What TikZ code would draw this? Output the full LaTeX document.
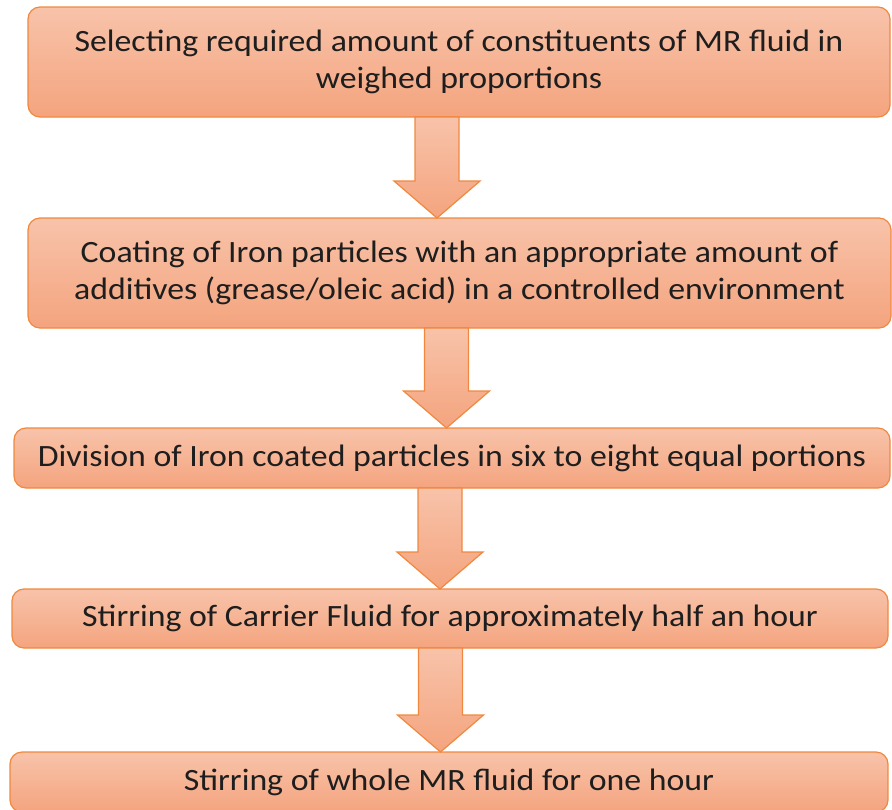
\documentclass[tikz,border=0pt]{standalone}
\usepackage{fontspec}
\setmainfont{Carlito}[FakeStretch=1.09]
\usetikzlibrary{calc}

\definecolor{boxtop}{HTML}{F8C3AA}
\definecolor{boxbot}{HTML}{F4A47E}
\definecolor{boxline}{HTML}{F0883F}
\definecolor{boxtext}{HTML}{1E1E1E}

\begin{document}
\begin{tikzpicture}[
    x=1pt, y=-1pt,
    every node/.style={inner sep=0pt, outer sep=0pt, align=center,
        text=boxtext, font=\fontsize{31}{37}\selectfont},
    stepbox/.style={
        rectangle, rounded corners=12pt, draw=boxline, line width=1.2pt,
        top color=boxtop, bottom color=boxbot
    },
    flowarrow/.style={
        draw=boxline, line width=1.2pt, top color=boxtop, bottom color=boxbot,
        to path={let \p1=(\tikztostart), \p2=(\tikztotarget) in
            (\x1-22pt,\y1) -- (\x1+22pt,\y1) -- (\x1+22pt,\y2+37pt)
            -- (\x1+43pt,\y2+37pt) -- (\x1,\y2) -- (\x1-43pt,\y2+37pt)
            -- (\x1-22pt,\y2+37pt) -- cycle}
    },
]

  \useasboundingbox (0,0) rectangle (892,809);

  % START OF STEP NODES

  \node[stepbox, minimum width=862pt, minimum height=110pt] (select) at (459,62)
    {Selecting required amount of constituents of MR fluid in\\weighed proportions};
  \node[stepbox, minimum width=863pt, minimum height=110pt] (coat) at (459.5,273)
    {Coating of Iron particles with an appropriate amount of\\additives (grease/oleic acid) in a controlled environment};
  \node[stepbox, minimum width=876pt, minimum height=60pt] (divide) at (452,458)
    {Division of Iron coated particles in six to eight equal portions};
  \node[stepbox, minimum width=876pt, minimum height=59pt] (carrier) at (450,618.5)
    {Stirring of Carrier Fluid for approximately half an hour};
  \node[stepbox, minimum width=878pt, minimum height=60pt] (whole) at (449,782)
    {Stirring of whole MR fluid for one hour};

  % block arrows between the steps
  \draw[flowarrow] ([xshift=-22pt]select.south) to ([xshift=-22pt]coat.north);
  \draw[flowarrow] ([xshift=-13pt]coat.south) to ([xshift=-13pt]divide.north);
  \draw[flowarrow] ([xshift=-12pt]divide.south) to ([xshift=-12pt]carrier.north);
  \draw[flowarrow] ([xshift=-9.5pt]carrier.south) to ([xshift=-9.5pt]whole.north);

\end{tikzpicture}
\end{document}
